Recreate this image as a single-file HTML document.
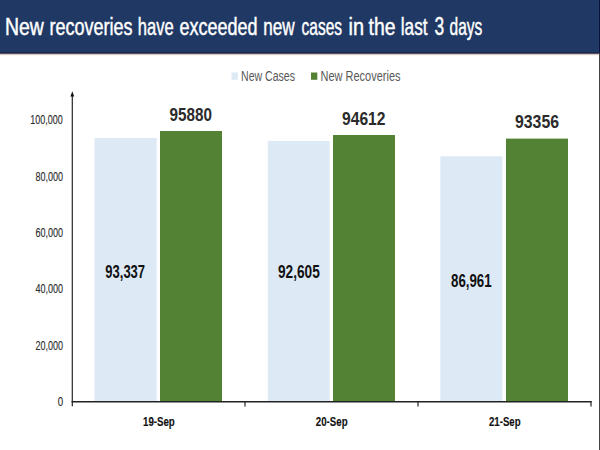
<!DOCTYPE html>
<html><head><meta charset="utf-8">
<style>
html,body{margin:0;padding:0;background:#fff;}
body{width:600px;height:450px;overflow:hidden;position:relative;font-family:"Liberation Sans",sans-serif;}
svg{position:absolute;left:0;top:0;display:block;}
text{font-family:"Liberation Sans",sans-serif;}
</style></head><body>
<svg width="600" height="450" viewBox="0 0 600 450">
<rect x="0" y="0" width="600" height="450" fill="#ffffff"/>
<!-- header -->
<rect x="0" y="0" width="600" height="53" fill="#203864"/>
<rect x="0" y="52.5" width="600" height="1.3" fill="#191c36"/>
<rect x="0" y="53.8" width="600" height="0.7" fill="#8c7474"/>
<rect x="0" y="54.5" width="600" height="0.7" fill="#e6d6d2"/>
<rect x="599" y="53" width="1" height="397" fill="#444444"/>
<rect x="599" y="0" width="1" height="53" fill="#04123c"/>
<rect x="598" y="0" width="1" height="52.5" fill="#2a3a66"/>
<g id="title" font-size="23.5" fill="#ffffff" stroke="#ffffff" stroke-width="0.45">
<text x="4.95" y="34.7" textLength="38.87" lengthAdjust="spacingAndGlyphs">New</text>
<text x="49.45" y="34.7" textLength="83.12" lengthAdjust="spacingAndGlyphs">recoveries</text>
<text x="137.8" y="34.7" textLength="35.95" lengthAdjust="spacingAndGlyphs">have</text>
<text x="179.5" y="34.7" textLength="78.08" lengthAdjust="spacingAndGlyphs">exceeded</text>
<text x="263.3" y="34.7" textLength="31.46" lengthAdjust="spacingAndGlyphs">new</text>
<text x="301.5" y="34.7" textLength="40.57" lengthAdjust="spacingAndGlyphs">cases</text>
<text x="348.55" y="34.7" textLength="15.5" lengthAdjust="spacingAndGlyphs">in</text>
<text x="368.55" y="34.7" textLength="26.97" lengthAdjust="spacingAndGlyphs">the</text>
<text x="400.8" y="34.7" textLength="26.73" lengthAdjust="spacingAndGlyphs">last</text>
<text x="434.5" y="34.7" font-size="25.5" textLength="9.66" lengthAdjust="spacingAndGlyphs">3</text>
<text x="449.5" y="34.7" textLength="32.77" lengthAdjust="spacingAndGlyphs">days</text>
</g>
<!-- legend -->
<rect x="231.5" y="72.5" width="6.3" height="7.3" fill="#ddeaf6"/>
<text x="241" y="80.5" font-size="14" fill="#595959" textLength="54" lengthAdjust="spacingAndGlyphs">New Cases</text>
<rect x="311" y="72.5" width="6.3" height="7.3" fill="#548235"/>
<text x="320.5" y="80.5" font-size="14" fill="#595959" textLength="80" lengthAdjust="spacingAndGlyphs">New Recoveries</text>
<!-- bars -->
<rect x="94.5" y="138" width="62.2" height="263.5" fill="#ddeaf6"/>
<rect x="160" y="131" width="62" height="270.5" fill="#548235"/>
<rect x="267.8" y="141" width="61.8" height="260.5" fill="#ddeaf6"/>
<rect x="333" y="135" width="62" height="266.5" fill="#548235"/>
<rect x="440.3" y="156.3" width="62.2" height="245.2" fill="#ddeaf6"/>
<rect x="506" y="138.6" width="62" height="263" fill="#548235"/>
<!-- axes -->
<line x1="72.3" y1="96" x2="72.3" y2="402" stroke="#262626" stroke-width="1.2"/>
<path d="M72.3 91.3 L74.2 96.4 L70.4 96.4 Z" fill="#111"/>
<line x1="71.7" y1="401.8" x2="591.6" y2="401.8" stroke="#222" stroke-width="1.4"/>
<line x1="72.3" y1="401" x2="72.3" y2="406.3" stroke="#222" stroke-width="1.2"/>
<line x1="245" y1="401" x2="245" y2="406.5" stroke="#222" stroke-width="1.2"/>
<line x1="418" y1="401" x2="418" y2="406.5" stroke="#222" stroke-width="1.2"/>
<line x1="591" y1="401" x2="591" y2="406.5" stroke="#222" stroke-width="1.2"/>
<!-- y labels -->
<g font-size="12.8" fill="#2a2a2a" stroke="#2a2a2a" stroke-width="0.12">
<text x="30.3" y="124.2" textLength="32.4" lengthAdjust="spacingAndGlyphs">100,000</text>
<text x="35.4" y="180.5" textLength="27.6" lengthAdjust="spacingAndGlyphs">80,000</text>
<text x="35.4" y="236.5" textLength="27.6" lengthAdjust="spacingAndGlyphs">60,000</text>
<text x="35.4" y="293" textLength="27.6" lengthAdjust="spacingAndGlyphs">40,000</text>
<text x="35.4" y="350" textLength="27.6" lengthAdjust="spacingAndGlyphs">20,000</text>
<text x="57.8" y="406.3" textLength="5.4" lengthAdjust="spacingAndGlyphs">0</text>
</g>
<!-- value labels -->
<g font-size="17.5" font-weight="bold" fill="#2b2b2b">
<text x="169.5" y="120.5" textLength="42.5" lengthAdjust="spacingAndGlyphs">95880</text>
<text x="342" y="125" textLength="43.5" lengthAdjust="spacingAndGlyphs">94612</text>
<text x="515" y="127.5" textLength="44" lengthAdjust="spacingAndGlyphs">93356</text>
</g>
<g font-size="17.5" font-weight="bold" fill="#111">
<text x="105.3" y="277.6" textLength="39.8" lengthAdjust="spacingAndGlyphs">93,337</text>
<text x="278" y="278.4" textLength="41.8" lengthAdjust="spacingAndGlyphs">92,605</text>
<text x="451" y="287" textLength="40.6" lengthAdjust="spacingAndGlyphs">86,961</text>
</g>
<!-- x labels -->
<g font-size="13.3" font-weight="bold" fill="#111" stroke="#111" stroke-width="0.15">
<text x="143" y="426.2" textLength="31.8" lengthAdjust="spacingAndGlyphs">19-Sep</text>
<text x="315.8" y="426.2" textLength="31.9" lengthAdjust="spacingAndGlyphs">20-Sep</text>
<text x="489" y="426.2" textLength="31.6" lengthAdjust="spacingAndGlyphs">21-Sep</text>
</g>
</svg>
</body></html>
